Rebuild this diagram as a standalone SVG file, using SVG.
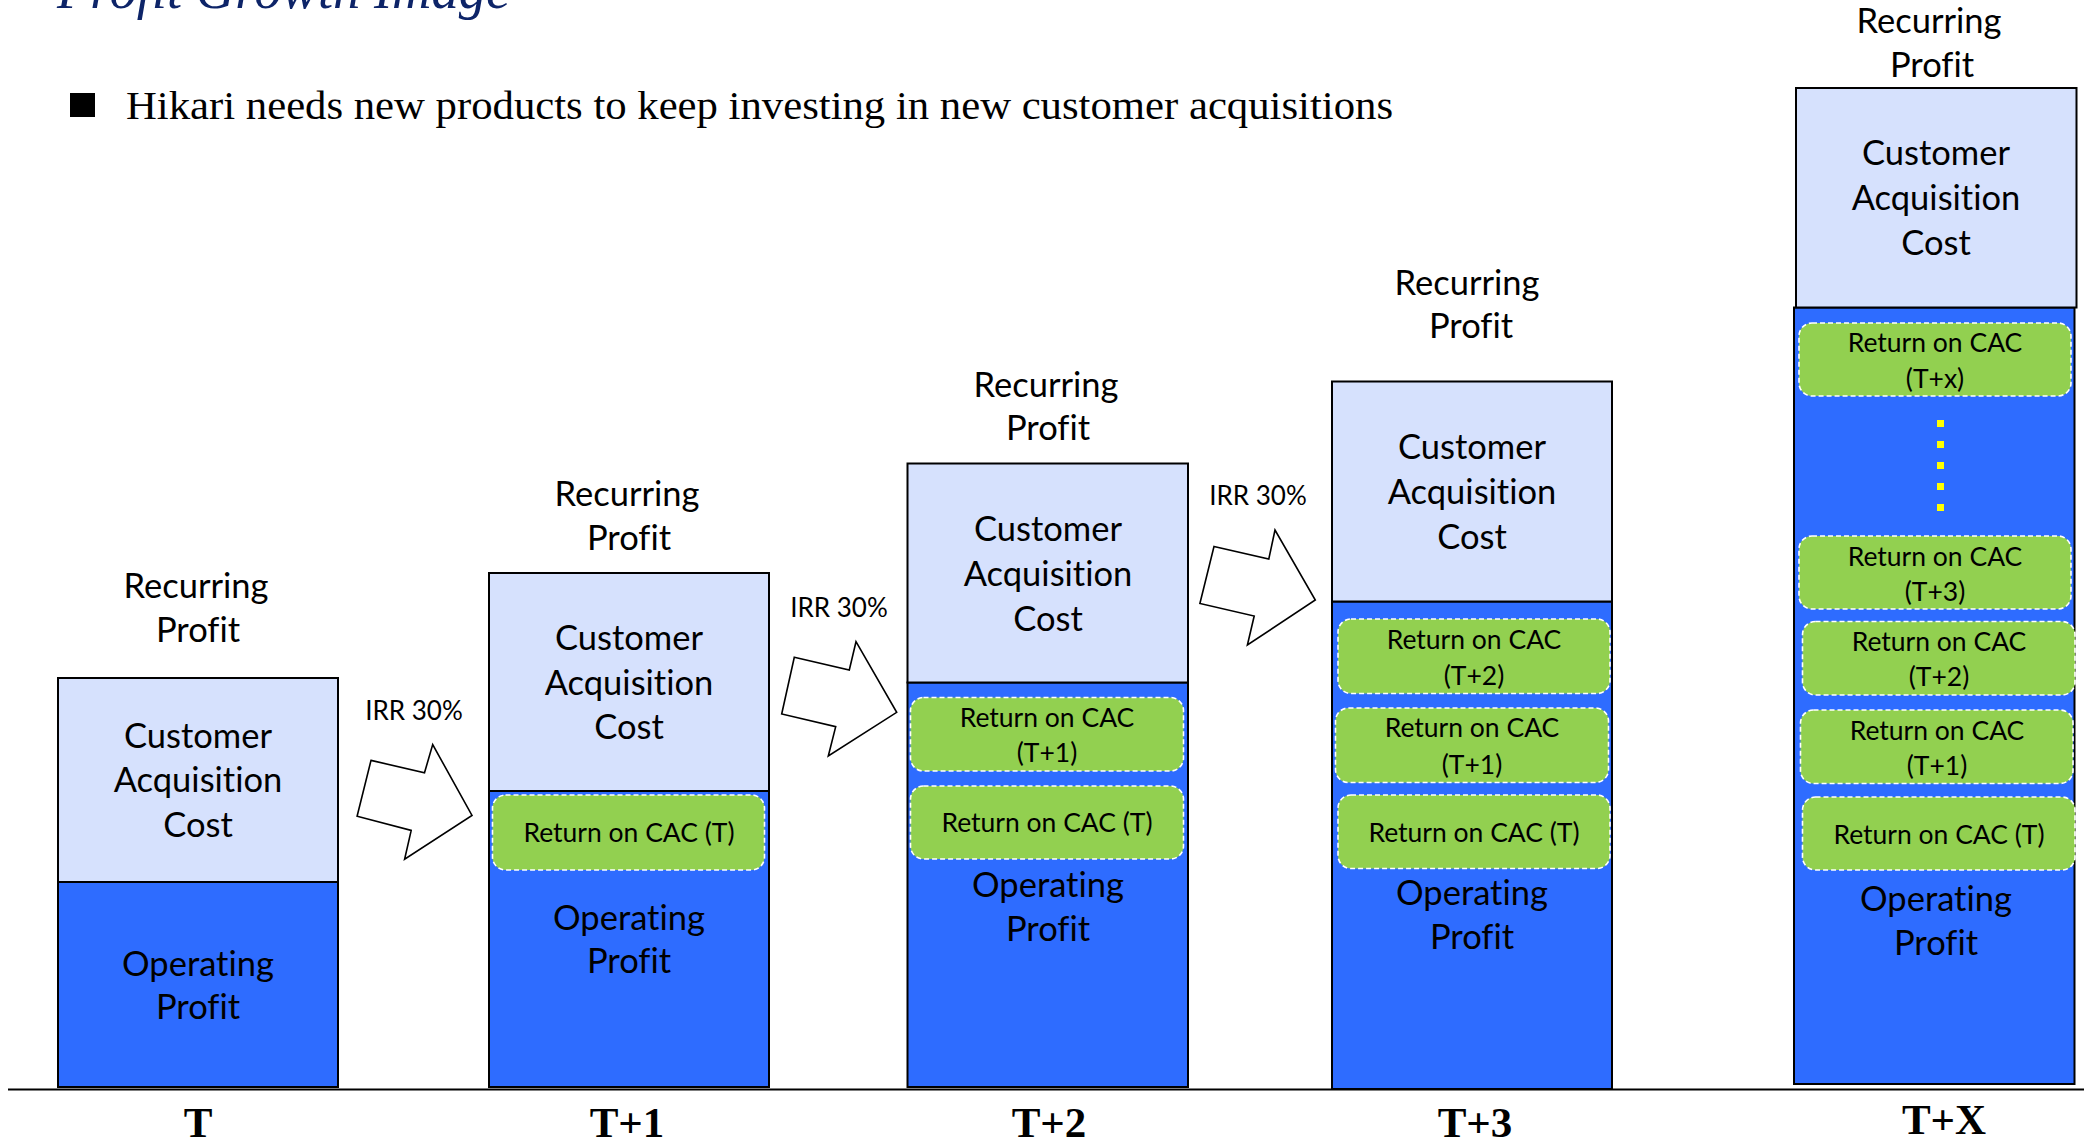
<svg xmlns="http://www.w3.org/2000/svg" width="2084" height="1143" viewBox="0 0 2084 1143">
<style>
.cac{fill:#D6E1FD;stroke:#000;stroke-width:2}
.op{fill:#2E6CFF;stroke:#000;stroke-width:2}
.ret{fill:#92D050;stroke:#fff;stroke-width:1.6;stroke-dasharray:5 3}
.big{font-family:Lato,"Liberation Sans",sans-serif;font-size:34.5px;fill:#000;text-anchor:middle;font-variant-ligatures:none}
.sm{font-family:Lato,"Liberation Sans",sans-serif;font-size:26.5px;fill:#000;text-anchor:middle;font-variant-ligatures:none}
.irr{font-family:Lato,"Liberation Sans",sans-serif;font-size:26px;fill:#000;text-anchor:middle}
.lbl{font-family:"Liberation Serif",serif;font-size:43px;font-weight:bold;fill:#000;text-anchor:middle}
.arrow{fill:#fff;stroke:#000;stroke-width:1.6;stroke-linejoin:miter}
.dot{fill:#FFFF00}
</style>
<rect width="2084" height="1143" fill="#fff"/>
<text x="57" y="8" font-family="'Liberation Serif',serif" font-style="italic" font-size="54.5" fill="#0D2468">Profit Growth Image</text>
<rect x="70" y="93" width="25" height="24" fill="#000"/>
<text x="126" y="119" font-family="'Liberation Serif',serif" font-size="40" fill="#000" textLength="1267" lengthAdjust="spacingAndGlyphs">Hikari needs new products to keep investing in new customer acquisitions</text>

<g id="connectors">
<line x1="8" y1="1089.5" x2="2084" y2="1089.5" stroke="#000" stroke-width="2"/>
<polygon class="arrow" points="371,760.4 424.5,772.7 432.7,744.6 472,815.4 404.6,859.2 411.2,830.4 357.1,816.2"/>
<polygon class="arrow" points="794.3,657.3 849.3,670 856,641.7 896.7,712.3 828.3,756 835.7,726.7 781.7,714"/>
<polygon class="arrow" points="1214,546.5 1268.8,559 1275,530 1315.3,600 1247.4,645 1254.2,616 1199.9,603.5"/>
<text class="irr" x="414" y="720">IRR 30%</text>
<text class="irr" x="839" y="617">IRR 30%</text>
<text class="irr" x="1258" y="505">IRR 30%</text>
</g>

<g id="bar-T">
<text class="big" x="196" y="598">Recurring</text>
<text class="big" x="198" y="642">Profit</text>
<rect class="op" x="58" y="882" width="280" height="205"/>
<rect class="cac" x="58" y="678" width="280" height="204"/>
<text class="big" x="198" y="748">Customer</text>
<text class="big" x="198" y="792">Acquisition</text>
<text class="big" x="198" y="837">Cost</text>
<text class="big" x="198" y="976">Operating</text>
<text class="big" x="198" y="1019">Profit</text>
<text class="lbl" x="198" y="1137">T</text>
</g>

<g id="bar-T1">
<text class="big" x="627" y="506">Recurring</text>
<text class="big" x="629" y="550">Profit</text>
<rect class="op" x="489" y="791" width="280" height="296"/>
<rect class="cac" x="489" y="573" width="280" height="218"/>
<text class="big" x="629" y="650">Customer</text>
<text class="big" x="629" y="695">Acquisition</text>
<text class="big" x="629" y="739">Cost</text>
<rect class="ret" x="492.5" y="795" width="272" height="75" rx="13"/>
<text class="sm" x="629" y="842">Return on CAC (T)</text>
<text class="big" x="629" y="930">Operating</text>
<text class="big" x="629" y="973">Profit</text>
<text class="lbl" x="627" y="1137">T+1</text>
</g>

<g id="bar-T2">
<text class="big" x="1046" y="397">Recurring</text>
<text class="big" x="1048" y="440">Profit</text>
<rect class="op" x="907.5" y="682.5" width="280.5" height="404.5"/>
<rect class="cac" x="907.5" y="463.5" width="280.5" height="219"/>
<text class="big" x="1048" y="541">Customer</text>
<text class="big" x="1048" y="586">Acquisition</text>
<text class="big" x="1048" y="631">Cost</text>
<rect class="ret" x="910.5" y="697.5" width="273" height="73.5" rx="13"/>
<text class="sm" x="1047" y="727">Return on CAC</text>
<text class="sm" x="1047" y="762">(T+1)</text>
<rect class="ret" x="910.5" y="786" width="273" height="73" rx="13"/>
<text class="sm" x="1047" y="832">Return on CAC (T)</text>
<text class="big" x="1048" y="897">Operating</text>
<text class="big" x="1048" y="941">Profit</text>
<text class="lbl" x="1049" y="1137">T+2</text>
</g>

<g id="bar-T3">
<text class="big" x="1467" y="295">Recurring</text>
<text class="big" x="1471" y="338">Profit</text>
<rect class="op" x="1332" y="601.5" width="280" height="487.5"/>
<rect class="cac" x="1332" y="381.5" width="280" height="220"/>
<text class="big" x="1472" y="459">Customer</text>
<text class="big" x="1472" y="504">Acquisition</text>
<text class="big" x="1472" y="549">Cost</text>
<rect class="ret" x="1338" y="619" width="272" height="74.5" rx="13"/>
<text class="sm" x="1474" y="649">Return on CAC</text>
<text class="sm" x="1474" y="685">(T+2)</text>
<rect class="ret" x="1335.5" y="708" width="273" height="74.5" rx="13"/>
<text class="sm" x="1472" y="737">Return on CAC</text>
<text class="sm" x="1472" y="774">(T+1)</text>
<rect class="ret" x="1338" y="795" width="272" height="73.5" rx="13"/>
<text class="sm" x="1474" y="842">Return on CAC (T)</text>
<text class="big" x="1472" y="905">Operating</text>
<text class="big" x="1472" y="949">Profit</text>
<text class="lbl" x="1475" y="1137">T+3</text>
</g>

<g id="bar-TX">
<text class="big" x="1929" y="33">Recurring</text>
<text class="big" x="1932" y="77">Profit</text>
<rect class="op" x="1794" y="307.5" width="280.5" height="776.5"/>
<rect class="cac" x="1796" y="88" width="280.5" height="219.5"/>
<text class="big" x="1936" y="165">Customer</text>
<text class="big" x="1936" y="210">Acquisition</text>
<text class="big" x="1936" y="255">Cost</text>
<rect class="ret" x="1799" y="323" width="272" height="73" rx="13"/>
<text class="sm" x="1935" y="352">Return on CAC</text>
<text class="sm" x="1935" y="388">(T+x)</text>
<rect class="dot" x="1937" y="420" width="7" height="7"/>
<rect class="dot" x="1937" y="441" width="7" height="7"/>
<rect class="dot" x="1937" y="462" width="7" height="7"/>
<rect class="dot" x="1937" y="483" width="7" height="7"/>
<rect class="dot" x="1937" y="504" width="7" height="7"/>
<rect class="ret" x="1799" y="536" width="272" height="73" rx="13"/>
<text class="sm" x="1935" y="566">Return on CAC</text>
<text class="sm" x="1935" y="601">(T+3)</text>
<rect class="ret" x="1802.5" y="621.5" width="272.5" height="73.5" rx="13"/>
<text class="sm" x="1939" y="651">Return on CAC</text>
<text class="sm" x="1939" y="686">(T+2)</text>
<rect class="ret" x="1800.5" y="710" width="272.5" height="73.5" rx="13"/>
<text class="sm" x="1937" y="740">Return on CAC</text>
<text class="sm" x="1937" y="775">(T+1)</text>
<rect class="ret" x="1802.5" y="797" width="272.5" height="73" rx="13"/>
<text class="sm" x="1939" y="844">Return on CAC (T)</text>
<text class="big" x="1936" y="911">Operating</text>
<text class="big" x="1936" y="955">Profit</text>
<text class="lbl" x="1944" y="1134">T+X</text>
</g>
</svg>
